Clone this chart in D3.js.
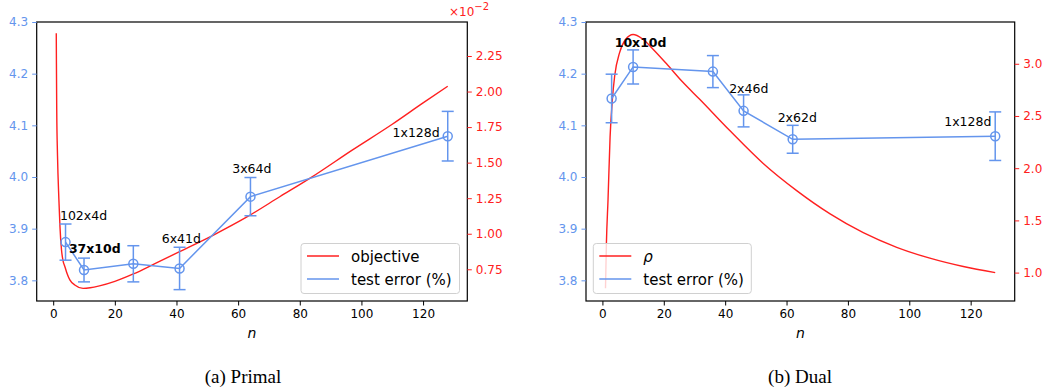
<!DOCTYPE html>
<html>
<head>
<meta charset="utf-8">
<script src="https://cdn.jsdelivr.net/npm/d3@7"></script>
<style>
  body { margin: 0; background: #fff; }
  svg { display: block; }
  text { font-family: "DejaVu Sans", sans-serif; }
  text.caption { font-family: "Liberation Serif", "Times New Roman", serif; }
</style>
</head>
<body>
<svg id="chart" width="1048" height="391"></svg>
<script>
// x ticks shared by both panels
var nTicks = [0, 20, 40, 60, 80, 100, 120];
var errTicks = [3.8, 3.9, 4.0, 4.1, 4.2, 4.3];

// (a) primal: objective curve (x1e-2)
var primalObjN   = [1, 1.05, 1.15, 1.4, 1.85, 2.2, 2.7, 3.2, 3.8, 4.5, 5.4, 7, 9.7, 12, 15, 20, 26, 33, 41, 52, 63, 73.5, 84, 97, 110, 120, 128];
var primalObjVal = [2.41, 2.2, 1.87, 1.55, 1.24, 1.05, 0.886, 0.81, 0.768, 0.72, 0.675, 0.64, 0.616, 0.62, 0.633, 0.665, 0.717, 0.79, 0.874, 0.991, 1.12, 1.26, 1.40, 1.588, 1.77, 1.92, 2.037];
var primalObjTicks = [0.75, 1.00, 1.25, 1.50, 1.75, 2.00, 2.25];

// (a) primal: test error
var primalErrN   = [4, 10, 26, 41, 64, 128];
var primalErrVal = [3.874, 3.820, 3.832, 3.823, 3.962, 4.079];
var primalErrStd = [0.035, 0.023, 0.035, 0.041, 0.037, 0.048];

var primalNotes = [
  {text: "102x4d", n: 2.2, v: 3.917, bold: false},
  {text: "37x10d", n: 5.1, v: 3.852, bold: true},
  {text: "6x41d", n: 35.2, v: 3.872, bold: false},
  {text: "3x64d", n: 58.1, v: 4.007, bold: false},
  {text: "1x128d", n: 110.1, v: 4.078, bold: false}
];

// (b) dual: rho curve
var dualRhoN   = [1, 1.3, 1.83, 2.5, 3.25, 4, 5.6, 7.5, 10, 13, 16.5, 20.9, 26, 31.7, 41.5, 52.4, 63.3, 74.2, 85, 95.9, 106.7, 117.6, 128];
var dualRhoVal = [0.85, 1.28, 1.70, 2.3, 2.66, 2.885, 3.107, 3.23, 3.28, 3.24, 3.14, 3.00, 2.83, 2.66, 2.36, 2.045, 1.785, 1.562, 1.382, 1.242, 1.138, 1.058, 1.0];
var dualRhoTicks = [1.0, 1.5, 2.0, 2.5, 3.0];

// (b) dual: test error
var dualErrN   = [3, 10, 36, 46, 62, 128];
var dualErrVal = [4.152, 4.213, 4.204, 4.128, 4.073, 4.079];
var dualErrStd = [0.047, 0.033, 0.031, 0.031, 0.027, 0.047];

var dualNotes = [
  {text: "10x10d", n: 4.0, v: 4.252, bold: true},
  {text: "2x46d", n: 41.3, v: 4.163, bold: false},
  {text: "2x62d", n: 57.1, v: 4.107, bold: false},
  {text: "1x128d", n: 111.4, v: 4.098, bold: false}
];

var BLUE = "#6495ed";
var RED = "#ff2020";

var svg = d3.select("#chart");

function drawPanel(p) {
  var g = svg.append("g");
  var top = 22, bottom = 301;

  var x = d3.scaleLinear().domain([-5.35, 134.35]).range([p.left, p.right]);
  var yErr = d3.scaleLinear().domain([3.76, 4.3]).range([bottom, top]);
  var yRed = d3.scaleLinear().domain(p.redDomain).range([bottom, top]);

  // red curve
  var redPts = p.redN.map(function(n, i) { return [n, p.redVal[i]]; });
  g.append("path")
    .datum(redPts)
    .attr("fill", "none")
    .attr("stroke", RED)
    .attr("stroke-width", 1.4)
    .attr("d", d3.line()
      .x(function(d) { return x(d[0]); })
      .y(function(d) { return yRed(d[1]); })
      .curve(d3.curveMonotoneX));

  // test error line + error bars
  var pts = p.errN.map(function(n, i) { return {n: n, v: p.errVal[i], s: p.errStd[i]}; });
  g.append("path")
    .datum(pts)
    .attr("fill", "none")
    .attr("stroke", BLUE)
    .attr("stroke-width", 1.5)
    .attr("d", d3.line().x(function(d) { return x(d.n); }).y(function(d) { return yErr(d.v); }));

  var eb = g.selectAll(".eb").data(pts).enter().append("g").attr("class", "eb")
    .attr("stroke", BLUE).attr("stroke-width", 1.5).attr("fill", "none");
  eb.append("line")
    .attr("x1", function(d) { return x(d.n); }).attr("x2", function(d) { return x(d.n); })
    .attr("y1", function(d) { return yErr(d.v - d.s); }).attr("y2", function(d) { return yErr(d.v + d.s); });
  eb.append("line")
    .attr("x1", function(d) { return x(d.n) - 6; }).attr("x2", function(d) { return x(d.n) + 6; })
    .attr("y1", function(d) { return yErr(d.v + d.s); }).attr("y2", function(d) { return yErr(d.v + d.s); });
  eb.append("line")
    .attr("x1", function(d) { return x(d.n) - 6; }).attr("x2", function(d) { return x(d.n) + 6; })
    .attr("y1", function(d) { return yErr(d.v - d.s); }).attr("y2", function(d) { return yErr(d.v - d.s); });
  eb.append("circle")
    .attr("cx", function(d) { return x(d.n); })
    .attr("cy", function(d) { return yErr(d.v); })
    .attr("r", 4.5);

  // annotations
  g.selectAll(".note").data(p.notes).enter().append("text")
    .attr("x", function(d) { return x(d.n); })
    .attr("y", function(d) { return yErr(d.v); })
    .attr("font-size", "12.5px")
    .attr("font-weight", function(d) { return d.bold ? "bold" : "normal"; })
    .attr("fill", "#000")
    .text(function(d) { return d.text; });

  // frame
  g.append("rect")
    .attr("x", p.left).attr("y", top)
    .attr("width", p.right - p.left).attr("height", bottom - top)
    .attr("fill", "none").attr("stroke", "#000").attr("stroke-width", 1.2);

  // axes
  var ax = g.append("g").attr("transform", "translate(0," + bottom + ")")
    .call(d3.axisBottom(x).tickValues(nTicks).tickSize(4.5).tickPadding(4));
  ax.select(".domain").remove();
  ax.selectAll("text").attr("font-size", "12px").attr("fill", "#000");

  var al = g.append("g").attr("transform", "translate(" + p.left + ",0)")
    .call(d3.axisLeft(yErr).tickValues(errTicks).tickFormat(d3.format(".1f")).tickSize(4.5).tickPadding(4));
  al.select(".domain").remove();
  al.selectAll("line").attr("stroke", BLUE);
  al.selectAll("text").attr("font-size", "12px").attr("fill", BLUE);

  var ar = g.append("g").attr("transform", "translate(" + p.right + ",0)")
    .call(d3.axisRight(yRed).tickValues(p.redTicks).tickFormat(d3.format(p.redFmt)).tickSize(4.5).tickPadding(4));
  ar.select(".domain").remove();
  ar.selectAll("line").attr("stroke", RED);
  ar.selectAll("text").attr("font-size", "12px").attr("fill", RED);

  // n label
  g.append("text")
    .attr("x", (p.left + p.right) / 2).attr("y", 338)
    .attr("text-anchor", "middle")
    .attr("font-size", "14px").attr("font-style", "italic")
    .text("n");

  // legend
  var lg = g.append("g").attr("transform", "translate(" + p.legendX + ",243.5)");
  lg.append("rect")
    .attr("width", p.legendW).attr("height", 50).attr("rx", 3)
    .attr("fill", "#fff").attr("fill-opacity", 0.8)
    .attr("stroke", "#d0d0d0").attr("stroke-width", 1);
  var items = [{label: p.redLabel, color: RED, italic: p.redItalic}, {label: "test error (%)", color: BLUE, italic: false}];
  items.forEach(function(it, i) {
    var yy = 12.5 + i * 23;
    lg.append("line").attr("x1", 6).attr("x2", 38).attr("y1", yy).attr("y2", yy)
      .attr("stroke", it.color).attr("stroke-width", 1.5);
    lg.append("text").attr("x", 50).attr("y", yy + 5.5)
      .attr("font-size", "15px")
      .attr("font-style", it.italic ? "italic" : "normal")
      .text(it.label);
  });

  // caption
  g.append("text")
    .attr("class", "caption")
    .attr("x", p.captionX).attr("y", 383)
    .attr("text-anchor", "middle")
    .attr("font-size", "19px")
    .text(p.caption);

  return g;
}

var gA = drawPanel({
  left: 36.7, right: 467.3,
  redN: primalObjN, redVal: primalObjVal, redDomain: [0.527, 2.489], redTicks: primalObjTicks, redFmt: ".2f",
  errN: primalErrN, errVal: primalErrVal, errStd: primalErrStd, notes: primalNotes,
  redLabel: "objective", redItalic: false, legendX: 301, legendW: 158.5,
  caption: "(a) Primal", captionX: 243
});

// offset text for the objective axis
var off = gA.append("text").attr("x", 449).attr("y", 16).attr("fill", RED).attr("font-size", "12px");
off.append("tspan").text("\u00d710");
off.append("tspan").attr("dy", -6).attr("font-size", "10px").text("\u22122");

drawPanel({
  left: 586, right: 1014.7,
  redN: dualRhoN, redVal: dualRhoVal, redDomain: [0.728, 3.40], redTicks: dualRhoTicks, redFmt: ".1f",
  errN: dualErrN, errVal: dualErrVal, errStd: dualErrStd, notes: dualNotes,
  redLabel: "\u03c1", redItalic: true, legendX: 593.3, legendW: 158,
  caption: "(b) Dual", captionX: 800
});
</script>
</body>
</html>
